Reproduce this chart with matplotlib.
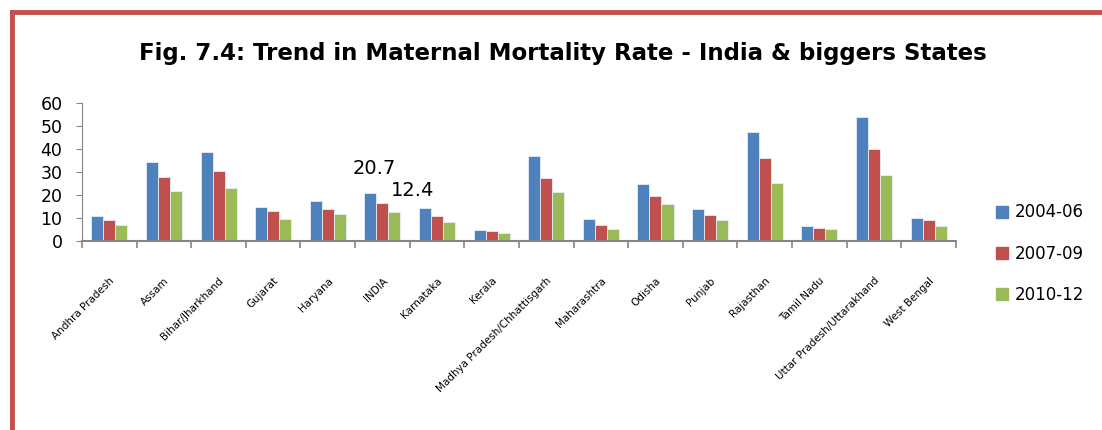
import numpy as np
import matplotlib
matplotlib.use("Agg")
import matplotlib.pyplot as plt
from matplotlib.lines import Line2D

states = ["Andhra Pradesh", "Assam", "Bihar/Jharkhand", "Gujarat", "Haryana", "INDIA",
          "Karnataka", "Kerala", "Madhya Pradesh/Chhattisgarh", "Maharashtra", "Odisha",
          "Punjab", "Rajasthan", "Tamil Nadu", "Uttar Pradesh/Uttarakhand", "West Bengal"]
mmr_2004 = [10.8, 34.5, 38.6, 14.8, 17.5, 20.7, 14.3, 4.8, 37.0, 9.3, 24.9, 13.8, 47.6, 6.6, 53.9, 10.0]
mmr_2007 = [9.0, 27.7, 30.3, 12.8, 13.7, 16.3, 10.9, 4.1, 27.5, 7.0, 19.5, 11.2, 36.0, 5.5, 40.0, 9.2]
mmr_2010 = [6.9, 21.6, 22.9, 9.5, 11.7, 12.4, 8.2, 3.4, 21.3, 5.2, 16.0, 9.0, 25.2, 5.0, 28.7, 6.6]
periods = ["2004-06", "2007-09", "2010-12"]
colors = ["#4F81BD", "#C0504D", "#9BBB59"]

fig = plt.figure(figsize=(11.02, 4.30), dpi=100)
ax = fig.add_axes([0.0744, 0.440, 0.793, 0.320])

x = np.arange(len(states))
w = 0.22
for k, vals in enumerate([mmr_2004, mmr_2007, mmr_2010]):
    ax.bar(x + (k - 1) * w, vals, w, color=colors[k], edgecolor="#E6EEF7",
           linewidth=0.6, label=periods[k])

# data labels for INDIA
i = states.index("INDIA")
ax.text(i - w + 0.08, 31.7, "20.7", ha="center", va="center", fontsize=14)
ax.text(i + w + 0.33, 22.0, "12.4", ha="center", va="center", fontsize=14)

ax.set_xlim(-0.5, len(states) - 0.5)
ax.set_ylim(0, 60)
ax.set_yticks(range(0, 61, 10))
ax.tick_params(axis="y", labelsize=12.5, length=4, color="#868686", pad=10)
ax.set_xticks(np.arange(len(states) + 1) - 0.5)
ax.set_xticklabels([])
ax.tick_params(axis="x", length=5, color="#868686", width=1.2)
ax.set_xticks(x, minor=True)
ax.set_xticklabels(states, minor=True, rotation=45, ha="right", rotation_mode="anchor",
                   fontsize=7.5)
ax.tick_params(axis="x", which="minor", length=0, pad=25)
for s in ["top", "right"]:
    ax.spines[s].set_visible(False)
ax.spines["left"].set_color("#868686")
ax.spines["bottom"].set_color("#868686")
ax.spines["bottom"].set_linewidth(1.5)

handles = [Line2D([], [], marker="s", linestyle="none", markersize=8.5, color=c) for c in colors]
fig.legend(handles, periods, loc="upper left", bbox_to_anchor=(0.902, 0.527),
           frameon=False, fontsize=12, handletextpad=0.25, handlelength=1.0,
           labelspacing=1.4, borderpad=0, borderaxespad=0)

fig.text(0.511, 0.875, "Fig. 7.4: Trend in Maternal Mortality Rate - India & biggers States",
         ha="center", va="center", fontsize=16.5, fontweight="bold")

# red frame
fig.add_artist(Line2D([0.011, 0.011], [0.0, 0.972], color="#C0504D", lw=3.5,
                      transform=fig.transFigure))
fig.add_artist(Line2D([0.011, 1.0], [0.972, 0.972], color="#C0504D", lw=3.5,
                      transform=fig.transFigure))

fig.savefig("out.png", dpi=100)
